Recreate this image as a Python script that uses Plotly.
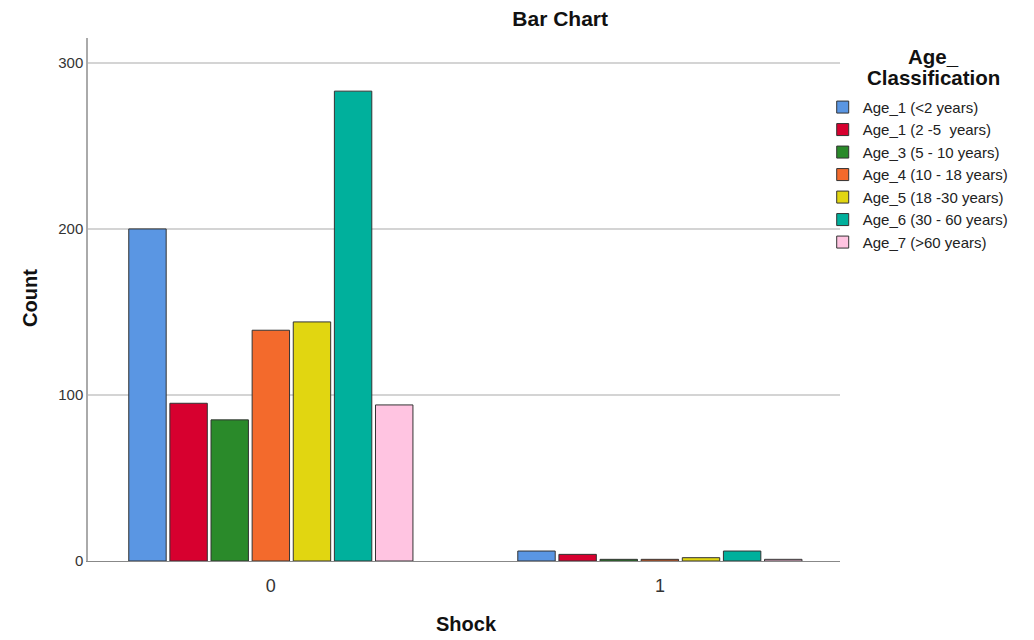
import plotly.graph_objects as go

categories = [0, 1]
series_names = [
    "Age_1 (<2 years)",
    "Age_1 (2 -5  years)",
    "Age_3 (5 - 10 years)",
    "Age_4 (10 - 18 years)",
    "Age_5 (18 -30 years)",
    "Age_6 (30 - 60 years)",
    "Age_7 (>60 years)",
]
age1_lt2 = [200, 6]
age1_2_5 = [95, 4]
age3_5_10 = [85, 1]
age4_10_18 = [139, 1]
age5_18_30 = [144, 2]
age6_30_60 = [283, 6]
age7_gt60 = [94, 1]
series_values = [age1_lt2, age1_2_5, age3_5_10, age4_10_18, age5_18_30, age6_30_60, age7_gt60]
colors = ["#5A96E3", "#D7002F", "#2A8A2A", "#F36A2C", "#E1D611", "#00B09C", "#FFC4E1"]
y_ticks = [0, 100, 200, 300]
x_tick_labels = ["0", "1"]
legend_title_lines = ["Age_", "Classification"]

FONT = "Liberation Sans, Arial, sans-serif"

fig = go.Figure()
for name, vals, col in zip(series_names, series_values, colors):
    fig.add_trace(go.Bar(
        x=categories, y=vals, name=name,
        marker=dict(color=col, line=dict(color="#333333", width=1)),
    ))

fig.update_layout(
    width=1034, height=640,
    paper_bgcolor="white", plot_bgcolor="white",
    barmode="group", bargap=0.26, bargroupgap=0.09,
    margin=dict(l=80, r=202, t=30, b=87),
    font=dict(family=FONT, color="#222222"),
    title=dict(text="<b>Bar Chart</b>", x=0.534, xanchor="center", y=0.983, yanchor="middle",
               font=dict(size=21, color="#111111")),
    showlegend=True,
    legend=dict(
        x=0.977, xanchor="left", y=0.899, yanchor="top",
        font=dict(size=15, color="#222222"),
        itemwidth=30, tracegroupgap=0, bgcolor="rgba(0,0,0,0)",
    ),
)
fig.update_xaxes(
    range=[-0.47, 1.463], tickvals=categories, ticktext=x_tick_labels,
    showline=True, linecolor="#888888", linewidth=1, ticks="",
    tickfont=dict(size=18, color="#333333"), ticklabelstandoff=8,
    showgrid=False, zeroline=False,
)
fig.update_yaxes(
    range=[0, 315], tickvals=y_ticks,
    showline=True, linecolor="#aaaaaa", linewidth=1.5, ticks="",
    tickfont=dict(size=15, color="#333333"),
    showgrid=True, gridcolor="#d4d4d4", gridwidth=1.5, zeroline=False,
)

# axis titles and legend title
fig.add_annotation(text="<b>Count</b>", xref="paper", yref="paper", x=-0.0771, y=0.503,
                   textangle=-90, showarrow=False, font=dict(size=20, color="#111111"),
                   xanchor="center", yanchor="middle")
fig.add_annotation(text="<b>Shock</b>", xref="paper", yref="paper", x=0.503, y=-0.1205,
                   showarrow=False, font=dict(size=20, color="#111111"),
                   xanchor="center", yanchor="middle")
for line, yy in zip(legend_title_lines, [0.9637, 0.9254]):
    fig.add_annotation(text="<b>" + line + "</b>", xref="paper", yref="paper", x=1.124, y=yy,
                       showarrow=False, font=dict(size=20.5, color="#111111"),
                       xanchor="center", yanchor="middle")

fig.write_html("out.html")
